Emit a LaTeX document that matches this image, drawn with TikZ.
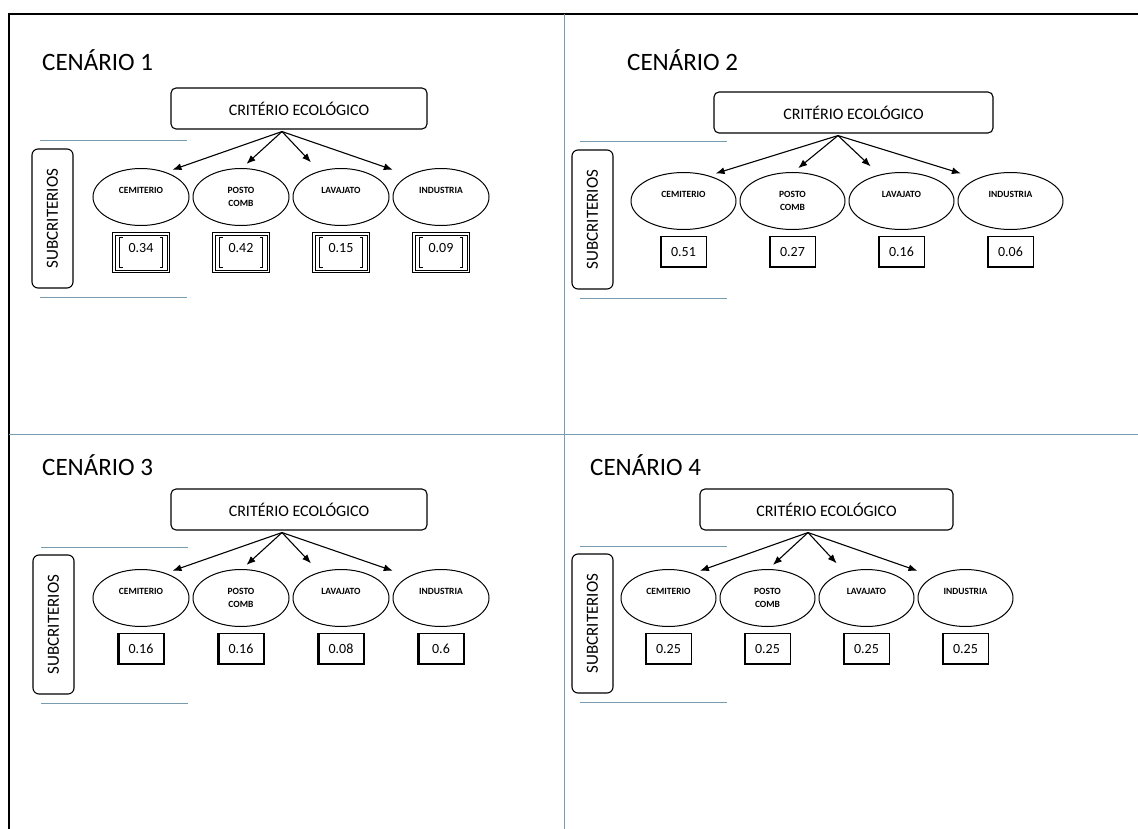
\documentclass[tikz,border=0pt]{standalone}
\usepackage{fontspec}
\setmainfont{Carlito}
\usetikzlibrary{arrows.meta,positioning,shapes.geometric,calc}
\definecolor{linha}{RGB}{120,155,175}

\begin{document}
\begin{tikzpicture}[x=1pt, y=1pt, >={Latex[length=9pt,width=7pt]},
  titulo/.style={anchor=west, inner sep=0pt, font=\fontsize{25}{27}\selectfont},
  criterio/.style={draw, rounded corners=5pt, line width=1.1pt, minimum height=41pt, font=\fontsize{16}{18}\selectfont},
  subcrit/.style={draw, rounded corners=6pt, line width=1.1pt, rotate=90, minimum width=139pt, minimum height=41pt, font=\fontsize{17}{19}\selectfont},
  sub/.style={draw, ellipse, line width=1pt, minimum height=57pt, inner sep=0pt, align=center, font=\bfseries\fontsize{9.5}{13}\selectfont},
  pesoA/.style={draw, line width=1.2pt, minimum width=57pt, minimum height=40pt, text depth=10pt,
    font=\fontsize{14}{16}\selectfont,
    path picture={
      \draw[line width=.7pt] ([shift={(2.5,-2.5)}]path picture bounding box.north west) rectangle ([shift={(-2.5,2.5)}]path picture bounding box.south east);
      \draw[line width=.9pt] ([shift={(10,-5)}]path picture bounding box.north west) -- ++(-3,0) |- ([shift={(10,5)}]path picture bounding box.south west);
      \draw[line width=.9pt] ([shift={(-10,-5)}]path picture bounding box.north east) -- ++(3,0) |- ([shift={(-10,5)}]path picture bounding box.south east);}},
  pesoB/.style={draw, line width=1.1pt, minimum width=46pt, minimum height=31pt, font=\fontsize{14}{16}\selectfont,
    path picture={
      \draw[line width=3.5pt] (path picture bounding box.north west) -- (path picture bounding box.south west);
      \draw[line width=2.5pt] (path picture bounding box.south west) -- (path picture bounding box.south east);}},
  peso/.code={\ifnum#1=1 \pgfkeysalso{pesoA}\else\pgfkeysalso{pesoB}\fi},
  seta/.style={->, line width=1.1pt},
  divisoria/.style={linha, line width=1pt}]

  \useasboundingbox (0,0) rectangle (1138,-829);
  % moldura e divisorias
  \draw[line width=2.4pt] (9,-829) -- (9,-14) -- (1138,-14);
  \draw[divisoria] (564,-14) -- (564,-829);
  \draw[divisoria] (9,-434) -- (1138,-434);

  % um quadro por cenario
  \foreach \n/\tx/\ty/\lx/\ly/\ox/\oy/\dc/\cw/\sp/\va/\vb/\vc/\vd in {
      1/42/60/0/0/282/131/17/256/100/0.34/0.42/0.15/0.09,
      2/627/60/540/1/838/135/15.5/279/109/0.51/0.27/0.16/0.06,
      3/42/465/1/406/282/532/17/256/100/0.16/0.16/0.08/0.6,
      4/590/465/540/405/808/532/18.5/253/99/0.25/0.25/0.25/0.25}{
    \node[titulo] (t\n) at (\tx,-\ty) {CENÁRIO \n};
    \draw[divisoria] ({\lx+40},{-\ly-141}) -- ({\lx+187},{-\ly-141});
    \draw[divisoria] ({\lx+40},{-\ly-297}) -- ({\lx+187},{-\ly-297});
    \node[subcrit] (s\n) at ({\lx+52.5},{-\ly-218.5}) {SUBCRITERIOS};
    \node[criterio, minimum width=\cw pt] (c\n) at ({\ox+\dc},{-\oy+22.5}) {CRITÉRIO ECOLÓGICO};
    \coordinate (o\n) at ($(c\n.south)+(-\dc,-2)$);
    \foreach \k/\lab/\ang/\enc in {0/{CEMITERIO\\~}/45/7, 1/{POSTO\\COMB}/88/6,
        2/{LAVAJATO\\~}/130/12, 3/{INDUSTRIA\\~}/146/17}{
      \node[sub, minimum width=\sp pt-4pt] (e\n\k) at ({\ox+(\k-1.5)*\sp+9},{-\oy-66}) {\lab};
      \draw[seta, shorten >=\enc pt] (o\n) -- (e\n\k.\ang);
    }
    \foreach \k/\v in {0/\va, 1/\vb, 2/\vc, 3/\vd}
      \node[peso=\n, below=6pt of e\n\k] (v\n\k) {\v};
  }
\end{tikzpicture}
\end{document}
